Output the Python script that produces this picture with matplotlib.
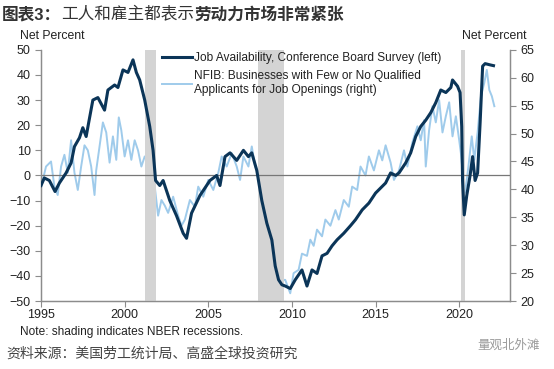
import matplotlib
matplotlib.use("Agg")
import matplotlib.pyplot as plt
import numpy as np

plt.rcParams['font.family'] = ['Liberation Sans', 'Noto Sans CJK SC', 'DejaVu Sans']

# Conference Board job availability (left axis, net percent)
cb_years = [1995.0, 1995.2, 1995.5, 1995.84, 1996.1, 1996.5, 1996.8, 1997.0, 1997.3, 1997.5,
            1997.7, 1997.85, 1998.1, 1998.4, 1998.8, 1999.0, 1999.4, 1999.6, 1999.9, 2000.2,
            2000.5, 2000.7, 2000.9, 2001.2, 2001.5, 2001.7, 2001.85, 2002.1, 2002.3, 2002.7,
            2003.1, 2003.5, 2003.7, 2004.0, 2004.5, 2005.1, 2005.5, 2005.7, 2006.0, 2006.3,
            2006.7, 2007.1, 2007.4, 2007.6, 2007.9, 2008.2, 2008.5, 2008.8, 2009.0, 2009.2,
            2009.4, 2009.6, 2009.9, 2010.2, 2010.6, 2010.9, 2011.2, 2011.5, 2011.8, 2012.1,
            2012.4, 2012.7, 2013.1, 2013.5, 2013.8, 2014.2, 2014.6, 2015.0, 2015.3, 2015.6,
            2015.9, 2016.2, 2016.4, 2016.8, 2017.1, 2017.4, 2017.7, 2018.0, 2018.3, 2018.6,
            2018.9, 2019.2, 2019.5, 2019.6, 2019.9, 2020.05, 2020.15, 2020.2, 2020.3, 2020.45,
            2020.65, 2020.8, 2020.95, 2021.1, 2021.25, 2021.4, 2021.55, 2021.85, 2022.05]
cb_values = [-4, -1, -2, -6.4, -3, 1, 5, 11.5, 15, 19,
             15.5, 21, 30, 31, 26, 34, 36, 35, 42, 41,
             46, 41, 38, 30, 19.5, 10, -2, -4, -2, -10,
             -16, -23, -25, -15, -8, -2, 0, -4, 7.5, 9,
             6, 10, 7.5, 9, 2, -10, -19, -25.7, -36, -41.5,
             -43.5, -44, -45, -41.5, -37.6, -44, -37.6, -39, -32, -31,
             -28, -25.6, -23, -20, -17.6, -13.7, -11, -7, -5, -3,
             1, 0, 1, 5, 9, 15.5, 19.5, 22, 25, 29,
             34, 33, 35, 38, 35.5, 33, 19.5, -2, -15.7, -8,
             0, 7.5, -2, 1, 21, 43.5, 44.5, 44, 43.7]

# NFIB: businesses with few or no qualified applicants (right axis)
nfib_years = [1995.0, 1995.3, 1995.6, 1995.8, 1996.0, 1996.2, 1996.4, 1996.6, 1996.8, 1997.0,
              1997.2, 1997.4, 1997.6, 1997.8, 1998.0, 1998.2, 1998.3, 1998.5, 1998.7, 1998.9,
              1999.1, 1999.3, 1999.5, 1999.65, 1999.8, 2000.0, 2000.2, 2000.4, 2000.6, 2000.8,
              2001.0, 2001.2, 2001.4, 2001.6, 2001.8, 2002.0, 2002.2, 2002.4, 2002.6, 2002.9,
              2003.2, 2003.4, 2003.6, 2003.9, 2004.2, 2004.4, 2004.7, 2005.0, 2005.3, 2005.6,
              2005.8, 2006.1, 2006.4, 2006.7, 2006.9, 2007.1, 2007.4, 2007.6, 2007.8, 2008.0,
              2008.2, 2008.4, 2008.7, 2009.0, 2009.2, 2009.3, 2009.6, 2009.9, 2010.1, 2010.4,
              2010.6, 2010.9, 2011.1, 2011.3, 2011.5, 2011.8, 2012.0, 2012.3, 2012.6, 2012.8,
              2013.1, 2013.4, 2013.6, 2013.9, 2014.1, 2014.4, 2014.6, 2014.9, 2015.2, 2015.4,
              2015.6, 2015.9, 2016.1, 2016.4, 2016.7, 2016.9, 2017.2, 2017.5, 2017.7, 2017.9,
              2018.0, 2018.2, 2018.4, 2018.6, 2018.8, 2019.0, 2019.2, 2019.4, 2019.6, 2019.8,
              2020.0, 2020.1, 2020.25, 2020.35, 2020.55, 2020.75, 2020.9, 2021.1, 2021.3, 2021.5,
              2021.65, 2021.8, 2021.95, 2022.1]
nfib_values = [40.3, 44.1, 45.0, 40.5, 39.0, 44.1, 46.2, 43.0, 48.8, 43.0,
               39.9, 44.1, 47.9, 47.0, 44.1, 39.0, 43.4, 47.7, 52.0, 50.2,
               44.8, 49.5, 45.3, 52.9, 50.6, 45.9, 48.8, 45.3, 48.8, 47.0,
               44.1, 45.9, 44.8, 44.1, 40.5, 35.3, 38.1, 37.1, 35.8, 38.7,
               35.3, 33.5, 34.6, 38.1, 36.9, 40.5, 38.7, 41.7, 39.9, 43.0,
               45.9, 44.1, 46.5, 44.1, 41.7, 45.9, 44.1, 47.7, 44.1, 43.0,
               36.9, 36.3, 34.6, 30.4, 28.1, 23.8, 23.8, 21.4, 25.0, 25.6,
               28.5, 28.1, 31.0, 29.9, 32.8, 31.6, 34.6, 33.5, 36.3, 34.6,
               38.1, 36.9, 40.5, 39.9, 44.1, 42.5, 45.9, 43.4, 47.0, 45.2,
               47.9, 44.8, 41.7, 43.4, 47.0, 44.1, 48.4, 51.3, 48.8, 52.4,
               44.1, 50.6, 54.9, 52.0, 56.0, 50.2, 53.1, 55.6, 49.5, 53.1,
               48.8, 46.5, 41.7, 39.4, 44.1, 49.5, 45.3, 50.2, 56.7, 59.1,
               61.4, 57.8, 56.7, 54.9]

recessions = [(2001.2, 2001.9), (2007.95, 2009.5), (2020.12, 2020.33)]

left_ticks = [-50, -40, -30, -20, -10, 0, 10, 20, 30, 40, 50]
right_ticks = [20, 25, 30, 35, 40, 45, 50, 55, 60, 65]
year_ticks = [1995, 2000, 2005, 2010, 2015, 2020]

dark = '#0b3558'
light = '#9fcbeb'
grey_spine = '#8c8c8c'
txt = '#222222'

fig = plt.figure(figsize=(5.54, 3.69), dpi=100)
ax = fig.add_axes([0.074, 0.184, 0.847, 0.681])
ax2 = ax.twinx()

for a, b in recessions:
    ax.axvspan(a, b, color='#d4d4d4', lw=0, zorder=0)
ax.axhline(0, color='#777777', lw=0.9, zorder=1)

ax2.plot(nfib_years, nfib_values, color=light, lw=1.4, zorder=2,
         label='NFIB: Businesses with Few or No Qualified\nApplicants for Job Openings (right)')
l1, = ax.plot(cb_years, cb_values, color=dark, lw=2.2, zorder=3,
              label='Job Availability, Conference Board Survey (left)')
ax.set_zorder(ax2.get_zorder() + 1)
ax.patch.set_visible(False)

ax.set_xlim(1995, 2023.05)
ax.set_ylim(-50, 50)
ax2.set_ylim(20, 65)
ax.set_yticks(left_ticks)
ax2.set_yticks(right_ticks)
ax.set_xticks(year_ticks)

for a in (ax, ax2):
    for s in a.spines.values():
        s.set_color(grey_spine)
        s.set_linewidth(0.9)
    a.spines['top'].set_visible(False)
    a.tick_params(colors=grey_spine, labelcolor=txt, labelsize=9, length=4, width=0.8)
ax.tick_params(axis='x', pad=2)

h2, lab2 = ax2.get_legend_handles_labels()
leg = ax.legend([l1] + h2, [l1.get_label()] + lab2, loc='upper left',
                bbox_to_anchor=(0.235, 1.035), frameon=False, fontsize=8.6,
                handlelength=2.5, handletextpad=0.15, labelspacing=0.55,
                labelcolor='#222222')

fig.text(0.036, 0.886, 'Net Percent', fontsize=8.8, color=txt, va='bottom')
fig.text(0.834, 0.886, 'Net Percent', fontsize=8.8, color=txt, va='bottom')

# title with mixed weights
ty = 0.96
t1 = fig.text(0.004, ty, '图表3：', fontsize=12, fontweight='bold', color='#333333', va='center')
t2 = fig.text(0, 0, '工人和雇主都表示', fontsize=12, color='#333333', va='center')
fig.canvas.draw()
r = fig.canvas.get_renderer()
bb1 = t1.get_window_extent(r)
t2.set_position(((bb1.x1) / fig.bbox.width, ty))
fig.canvas.draw()
bb2 = t2.get_window_extent(r)
fig.text(bb2.x1 / fig.bbox.width, ty, '劳动力市场非常紧张', fontsize=12, fontweight='bold',
         color='#333333', va='center')

fig.text(0.036, 0.093, 'Note: shading indicates NBER recessions.', fontsize=8.6, color=txt)
fig.text(0.012, 0.03, '资料来源：美国劳工统计局、高盛全球投资研究', fontsize=10, color='#444444')
fig.text(0.975, 0.055, '量观北外滩', fontsize=9, color='#9a9a9a', ha='right')

fig.savefig('out.png', dpi=100)
